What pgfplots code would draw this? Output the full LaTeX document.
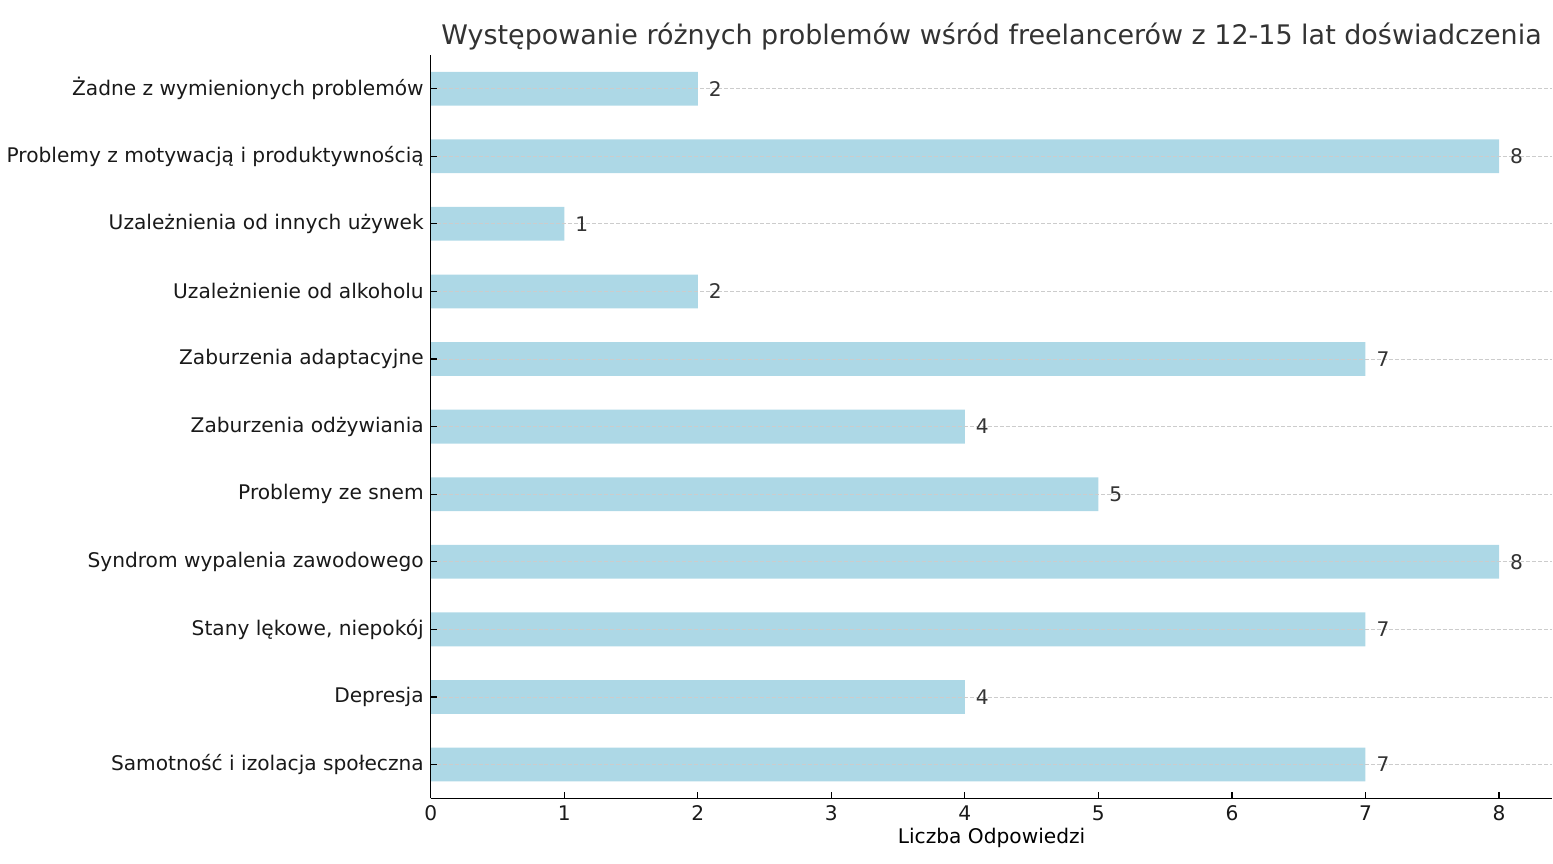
\documentclass[border=0pt]{standalone}
\usepackage{pgfplots}
\pgfplotsset{compat=1.18}
\usepackage{fontspec}
\setmainfont{DejaVu Sans}
\definecolor{barblue}{RGB}{173,216,230}
\definecolor{txt}{RGB}{51,51,51}
\begin{document}
\begin{tikzpicture}
\begin{axis}[
  scale only axis,
  width=562pt, height=372.5pt,
  xbar, bar width=0.5,
  xmin=0, xmax=8.4,
  ymin=-0.5, ymax=10.5,
  axis on top,
  axis lines*=left,
  axis line style={black, line width=0.6pt},
  xtick={0,...,8},
  ytick={0,...,10},
  yticklabels={Samotność i izolacja społeczna, Depresja, {Stany lękowe, niepokój}, Syndrom wypalenia zawodowego, Problemy ze snem, Zaburzenia odżywiania, Zaburzenia adaptacyjne, Uzależnienie od alkoholu, Uzależnienia od innych używek, Problemy z motywacją i produktywnością, Żadne z wymienionych problemów},
  tick align=inside,
  tick style={black, line width=0.6pt},
  major tick length=3pt,
  tick label style={font=\fontsize{10.1}{12}\selectfont, text=black!90},
  /pgf/number format/assume math mode=true,
  ymajorgrids,
  grid style={gray!40, line width=0.4pt, dash pattern=on 2pt off 1pt},
  xlabel={Liczba Odpowiedzi},
  xlabel style={font=\fontsize{10.1}{12}\selectfont, yshift=3pt},
  title={Występowanie różnych problemów wśród freelancerów z 12-15 lat doświadczenia},
  title style={font=\fontsize{13.5}{15}\selectfont, text=txt, yshift=-7pt},
  nodes near coords,
  nodes near coords style={font=\fontsize{10.1}{12}\selectfont, text=txt, anchor=west, xshift=2pt},
  clip=false,
]
\addplot[fill=barblue, draw=none] coordinates {
  (7,0) (4,1) (7,2) (8,3) (5,4) (4,5) (7,6) (2,7) (1,8) (8,9) (2,10)
};
\end{axis}
\path ([yshift=-32.5pt]current axis.south west) ([yshift=27.5pt]current axis.north west);
\end{tikzpicture}
\end{document}
